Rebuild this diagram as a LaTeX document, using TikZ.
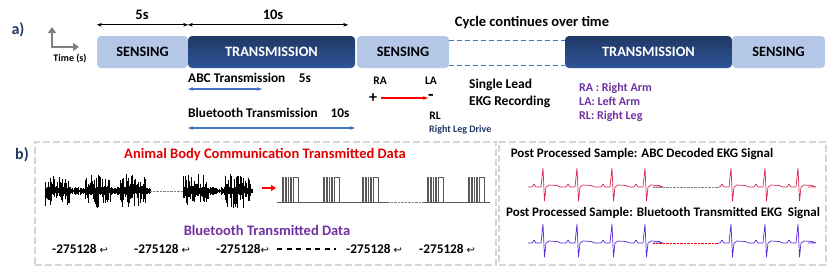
\documentclass[tikz,border=0pt]{standalone}
\usepackage{fontspec}
\setmainfont{Carlito}
\newfontfamily\symfont{DejaVu Sans}
\usepackage{xcolor}
\usepackage{tikz}
\usetikzlibrary{arrows.meta, positioning}

\definecolor{sensblue}{HTML}{B4C7E7}
\definecolor{navytop}{HTML}{1F3864}
\definecolor{navybot}{HTML}{2F5597}
\definecolor{arrblue}{HTML}{4472C4}
\definecolor{labblue}{HTML}{1F3864}
\definecolor{legpurple}{HTML}{7030A0}
\definecolor{abcred}{HTML}{E00000}
\definecolor{ecgred}{HTML}{D42A52}
\definecolor{ecgpurple}{HTML}{5A28D8}
\definecolor{framegray}{HTML}{D6D6D6}
\newcommand{\retsym}{{\symfont\mdseries\fontsize{10}{10}\selectfont ↩}}

\begin{document}
\begin{tikzpicture}[
  x=1pt, y=-1pt,
  font=\bfseries,
  sense/.style={rectangle, rounded corners=4pt, fill=sensblue, inner sep=0pt,
                minimum height=32pt, font=\fontsize{14.3}{16}\selectfont\bfseries},
  trans/.style={rectangle, rounded corners=4pt, top color=navytop,
                bottom color=navybot, inner sep=0pt, minimum width=167pt,
                minimum height=32pt, text=white,
                font=\fontsize{14.3}{16}\selectfont\bfseries},
  txt/.style={inner sep=0pt, font=\fontsize{13.3}{15}\selectfont\bfseries},
  big/.style={inner sep=0pt, font=\fontsize{14.5}{17}\selectfont\bfseries},
  small/.style={inner sep=0pt, font=\fontsize{11.5}{14}\selectfont\bfseries},
  part/.style={inner sep=0pt, text=labblue, font=\fontsize{16}{18}\selectfont\bfseries},
  frame/.style={rectangle, draw=framegray, line width=2.5pt,
                dash pattern=on 7pt off 3pt, inner sep=0pt},
  dimarr/.style={{Stealth[length=5pt]}-{Stealth[length=5pt]}, line width=1.2pt},
  bluearr/.style={{Stealth[length=5pt]}-{Stealth[length=5pt]}, line width=1.5pt, arrblue},
  redarr/.style={-{Stealth[length=5pt]}, line width=1.2pt, red},
  axarr/.style={{Triangle[length=6pt, width=8pt]}-{Triangle[length=6pt, width=8pt]},
                line width=2.8pt, gray},
  dashline/.style={arrblue, line width=1pt, dash pattern=on 5pt off 3pt},
  wave/.style={line width=0.35pt, black},
  pulse/.style={line width=0.5pt, black!65},
  ecg/.style={line width=0.7pt, line join=round},
]
  \useasboundingbox (0,0) rectangle (830,268);

  \node[part] (pa) at (18,30) {a)};
  \node[inner sep=0pt, font=\fontsize{10}{11}\selectfont\bfseries] (tm) at (70,59) {Time (s)};
  \coordinate (axtop) at (52,27);
  \coordinate (axright) at (79,47);
  \draw[axarr] (axtop) |- (axright);

  \node[sense, minimum width=91pt] (s1) at (142.5,52) {SENSING};
  \node[trans] (t1) at (271.5,52) {TRANSMISSION};
  \node[sense, minimum width=92pt] (s2) at (403,52) {SENSING};
  \node[trans] (t2) at (648.5,52) {TRANSMISSION};
  \node[sense, minimum width=93pt] (s3) at (778.5,52) {SENSING};

  \draw[dimarr] ([yshift=11pt]s1.north west) -- ([yshift=11pt]s1.north east);
  \draw[dimarr] ([yshift=11pt]t1.north west) -- ([xshift=-7pt, yshift=11pt]t1.north east);
  \node[big] (d5) at (142,15) {5s};
  \node[big] (d10) at (273,15) {10s};
  \node[big] (cyc) at (532,23) {Cycle continues over time};

  \draw[dashline] ([yshift=-5pt]s2.north east) -- ([yshift=-5pt]t2.north west);
  \draw[dashline] ([yshift=3pt]s2.south east) -- ([yshift=3pt]t2.south west);

  \node[txt, anchor=west] (abc) at (188,78) {ABC Transmission};
  \node[txt] (abc5) at (305,78) {5s};
  \coordinate (abcl) at (188,89);
  \coordinate (abcr) at (262,89);
  \draw[bluearr] (abcl) -- (abcr);
  \node[txt, anchor=west] (bt) at (188,113) {Bluetooth Transmission};
  \node[txt] (bt10) at (340,113) {10s};
  \coordinate (btl) at (188,128);
  \coordinate (btr) at (355,128);
  \draw[bluearr] (btl) -- (btr);

  \node[small] (ra) at (380,81) {RA};
  \node[inner sep=0pt, font=\fontsize{16}{16}\selectfont\bfseries] (plus) at (373,98) {+};
  \node[inner sep=0pt, font=\fontsize{18}{18}\selectfont\bfseries] (minus) at (431,97) {-};
  \node[small] (la) at (431,81) {LA};
  \node[small] (rl) at (435,116) {RL};
  \node[inner sep=0pt, anchor=west, text=labblue,
        font=\fontsize{10}{11}\selectfont\bfseries] (rld) at (429,130) {Right Leg Drive};
  \draw[redarr, shorten <=4pt] (plus) -- (plus -| minus.west);
  \node[txt, anchor=west, align=left, font=\fontsize{13.5}{17}\selectfont\bfseries]
    (slead) at (469,93.5) {Single Lead\\EKG Recording};
  \node[small, anchor=west, align=left, text=legpurple,
        font=\fontsize{12}{14}\selectfont\bfseries] (leg) at (579,102)
    {RA : Right Arm\\LA: Left Arm\\RL: Right Leg};

  \node[part] (pb) at (22,155) {b)};
  \node[frame, minimum width=461pt, minimum height=123pt] (fl) at (265.5,203.5) {};
  \node[frame, minimum width=327pt, minimum height=123pt] (fr) at (662.5,203.5) {};

  \node[big, text=abcred] (abctitle) at (265,155) {Animal Body Communication Transmitted Data};
  \pgfmathsetseed{11}
  \foreach \bx in {45,85,120,183,225} {
    \foreach \i in {0,...,42} {
      \pgfmathsetmacro\xx{\bx+\i*0.6}
      \pgfmathsetmacro\up{3+14*rnd^2}
      \pgfmathsetmacro\dn{2+15*rnd^2}
      \draw[wave] (\xx,191-\up) -- (\xx,191+\dn);
    }
  }
  \foreach \i in {0,...,175} {
    \pgfmathsetmacro\xx{45+\i*0.6}
    \pgfmathsetmacro\amp{1+3*rnd}
    \draw[wave] (\xx,191-\amp) -- (\xx,191+\amp);
  }
  \foreach \i in {0,...,115} {
    \pgfmathsetmacro\xx{183+\i*0.6}
    \pgfmathsetmacro\amp{1+3*rnd}
    \draw[wave] (\xx,191-\amp) -- (\xx,191+\amp);
  }
  \draw[densely dotted, gray] (150,191) -- (183,191);
  \coordinate (wend) at (262,188);
  \coordinate (dstart) at (276,188);
  \draw[redarr, line width=2pt, -{Triangle[length=5pt, width=6pt]}] (wend) -- (dstart);

  \foreach \g in {282,323,362,427,468} {
    \foreach \o in {0,1.5,3,4.5,6,8,9.5,11,16} {
      \draw[pulse] (\g+\o,177) -- (\g+\o,202);
    }
    \draw[pulse] (\g+11,177) -- (\g+16,177);
  }
  \draw[pulse] (277,202) -- (388,202);
  \draw[densely dotted, gray] (388,202) -- (423,202);
  \draw[pulse] (423,202) -- (490,202);

  \node[big, text=legpurple] (bttitle) at (267,230) {Bluetooth Transmitted Data};
  \node[txt, anchor=west] (n1) at (52,249) {-275128 \retsym};
  \node[txt, anchor=west] (n2) at (134,249) {-275128 \retsym};
  \node[txt, anchor=west] (n3) at (216,249) {-275128\retsym};
  \node[txt, anchor=west] (n4) at (346,249) {-275128 \retsym};
  \node[txt, anchor=west] (n5) at (419,249) {-275128 \retsym};
  \draw[line width=1.2pt, dash pattern=on 5pt off 4.5pt, shorten <=8pt, shorten >=10pt]
    (n3.east) -- (n4.west);

  \node[txt, font=\fontsize{13}{15}\selectfont\bfseries] (ppabc) at (642,154)
    {Post Processed Sample: ABC Decoded EKG Signal};
  \node[txt, font=\fontsize{13}{15}\selectfont\bfseries] (ppbt) at (663,213)
    {Post Processed Sample: Bluetooth Transmitted EKG\ \ Signal};

  \foreach \b/\col/\gapcol in {187/ecgred/gray, 243/ecgpurple/red} {
    \draw[ecg, \col] (528,\b) foreach \r in {543,577,612,645} {
      -- (\r-11,\b) -- (\r-9,\b-3) -- (\r-7,\b) -- (\r-2,\b)
      -- (\r,\b-19) -- (\r+1.5,\b+14) -- (\r+3,\b) -- (\r+6,\b-2)
      -- (\r+14,\b-1.5) -- (\r+18,\b) } -- (653,\b);
    \draw[densely dotted, \gapcol] (653,\b) -- (718,\b);
    \draw[ecg, \col] (718,\b) foreach \r in {731,765,798} {
      -- (\r-11,\b) -- (\r-9,\b-3) -- (\r-7,\b) -- (\r-2,\b)
      -- (\r,\b-19) -- (\r+1.5,\b+14) -- (\r+3,\b) -- (\r+6,\b-2)
      -- (\r+14,\b-1.5) -- (\r+18,\b) } -- (808,\b);
  }
\end{tikzpicture}
\end{document}
